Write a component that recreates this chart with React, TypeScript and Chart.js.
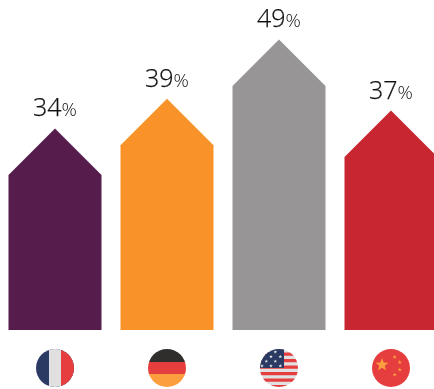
import React, { useEffect, useRef } from "react";
import { Chart, BarController, BarElement, CategoryScale, LinearScale } from "chart.js";

const countries = ["France", "Germany", "USA", "China"];
const shares = [34, 39, 49, 37];
const barColors = ["#561d4c", "#f99228", "#979595", "#c82630"];
const axisMax = 55.65;

const NAVY = "#2b3a63";
const PALE = "#e0e0e0";
const RED = "#e63e3e";
const DARK = "#2f2e2d";
const AMBER = "#fd9e3e";

const ROOF = 46.5;
const FLAG_R = 19;
const FLAG_Y = 368;

// A bar whose top is a pitched roof: the apex sits at the value.
class HouseBar extends BarElement {
  static id = "houseBar";
  draw(ctx: CanvasRenderingContext2D) {
    const { x, y, base, width } = this as any;
    const half = width / 2;
    ctx.save();
    ctx.fillStyle = (this as any).options.backgroundColor;
    ctx.beginPath();
    ctx.moveTo(x - half, base);
    ctx.lineTo(x - half, y + ROOF);
    ctx.lineTo(x, y);
    ctx.lineTo(x + half, y + ROOF);
    ctx.lineTo(x + half, base);
    ctx.closePath();
    ctx.fill();
    ctx.restore();
  }
}

class HouseBarController extends BarController {
  static id = "houseBarChart";
  static defaults = { ...BarController.defaults, dataElementType: "houseBar" };
}

function star(ctx: CanvasRenderingContext2D, x: number, y: number, r: number, color: string) {
  ctx.fillStyle = color;
  ctx.beginPath();
  for (let i = 0; i < 10; i++) {
    const a = -Math.PI / 2 + (i * Math.PI) / 5;
    const d = i % 2 ? r * 0.42 : r;
    ctx.lineTo(x + d * Math.cos(a), y + d * Math.sin(a));
  }
  ctx.closePath();
  ctx.fill();
}

function paintFlag(ctx: CanvasRenderingContext2D, name: string, cx: number, cy: number) {
  const r = FLAG_R;
  ctx.save();
  ctx.beginPath();
  ctx.arc(cx, cy, r, 0, Math.PI * 2);
  ctx.clip();
  if (name === "France") {
    ctx.fillStyle = NAVY;
    ctx.fillRect(cx - r, cy - r, 2 * r, 2 * r);
    ctx.fillStyle = PALE;
    ctx.fillRect(cx - 6, cy - r, 12, 2 * r);
    ctx.fillStyle = RED;
    ctx.fillRect(cx + 6, cy - r, r, 2 * r);
  } else if (name === "Germany") {
    ctx.fillStyle = DARK;
    ctx.fillRect(cx - r, cy - r, 2 * r, 13);
    ctx.fillStyle = RED;
    ctx.fillRect(cx - r, cy - 6, 2 * r, 12);
    ctx.fillStyle = AMBER;
    ctx.fillRect(cx - r, cy + 6, 2 * r, 13);
  } else if (name === "USA") {
    const stripe = 3.25;
    ctx.fillStyle = PALE;
    ctx.fillRect(cx - r, cy - r, 2 * r, 2 * r);
    ctx.fillStyle = RED;
    for (let i = -4; i < 3; i++) {
      ctx.fillRect(cx - r, cy + 4 + i * 2 * stripe, 2 * r, stripe);
    }
    ctx.fillStyle = NAVY;
    ctx.fillRect(cx - r, cy - r, r + 5, r);
    const stars = [[-3.7, -16], [-8, -11.3], [1.3, -11.3], [-12.7, -6.7], [-3.7, -6.7], [-17, -2], [-8, -2], [1.3, -2]];
    for (const [dx, dy] of stars) star(ctx, cx + dx, cy + dy, 1.9, PALE);
  } else {
    ctx.fillStyle = RED;
    ctx.fillRect(cx - r, cy - r, 2 * r, 2 * r);
    star(ctx, cx - 9, cy - 3.2, 6.8, AMBER);
    const small = [[3.7, -11], [8.7, -5.7], [8.7, 1.7], [3.7, 6.7]];
    for (const [dx, dy] of small) star(ctx, cx + dx, cy + dy, 2.2, AMBER);
  }
  ctx.restore();
}

// Value labels above each apex and a round flag under each bar.
const decorations = {
  id: "decorations",
  afterDatasetsDraw(chart: any) {
    const { ctx, scales } = chart;
    const meta = chart.getDatasetMeta(0);
    ctx.save();
    ctx.fillStyle = "#111111";
    ctx.strokeStyle = "#111111";
    ctx.lineWidth = 0.25;
    ctx.textBaseline = "alphabetic";
    meta.data.forEach((bar: any, i: number) => {
      const number = String(shares[i]);
      const big = "300 25px 'Open Sans'";
      const little = "300 19px 'Open Sans'";
      ctx.font = big;
      const w1 = ctx.measureText(number).width;
      ctx.font = little;
      const w2 = ctx.measureText("%").width;
      const left = bar.x - (w1 + w2) / 2;
      const y = scales.y.getPixelForValue(shares[i]) - 12;
      ctx.textAlign = "left";
      ctx.font = big;
      ctx.fillText(number, left, y);
      ctx.strokeText(number, left, y);
      ctx.font = little;
      ctx.fillText("%", left + w1, y);
      paintFlag(ctx, countries[i], scales.x.getPixelForValue(i), FLAG_Y);
    });
    ctx.restore();
  },
};

Chart.register(HouseBarController, HouseBar, BarElement, CategoryScale, LinearScale);

export default function App() {
  const ref = useRef<HTMLCanvasElement>(null);
  useEffect(() => {
    document.body.style.margin = "0";
    const chart = new Chart(ref.current!, {
      type: "houseBarChart" as any,
      data: {
        labels: countries,
        datasets: [{ data: shares, backgroundColor: barColors, barThickness: 93 }],
      },
      options: {
        animation: false,
        responsive: false,
        layout: { padding: { top: 0, left: 0, right: 0, bottom: 59 } },
        plugins: { legend: { display: false }, tooltip: { enabled: false } },
        scales: {
          x: { display: false },
          y: { display: false, min: 0, max: axisMax },
        },
      },
      plugins: [decorations],
    });
    return () => chart.destroy();
  }, []);
  return (
    <div style={{ position: "relative", width: 434, height: 389, overflow: "hidden" }}>
      <canvas ref={ref} width={448} height={389} style={{ position: "absolute", left: -1, top: 0 }} />
    </div>
  );
}
